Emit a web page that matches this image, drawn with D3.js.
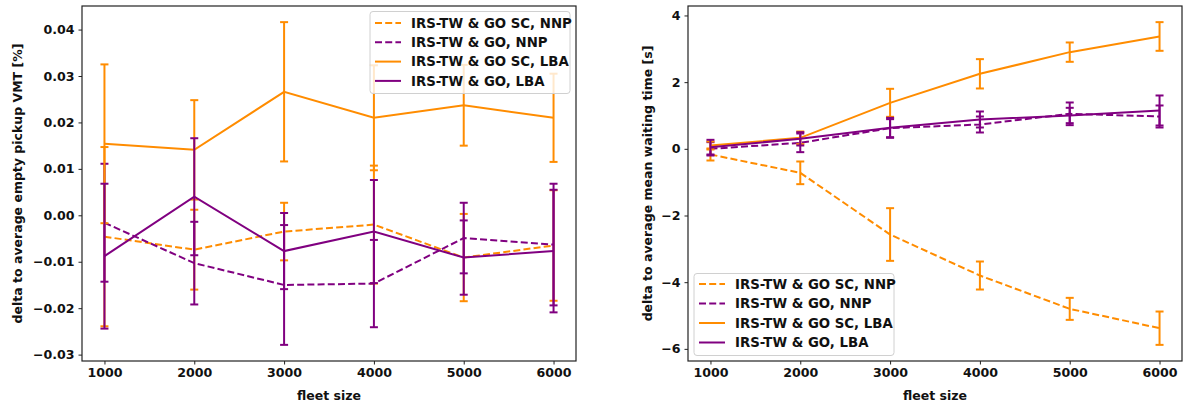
<!DOCTYPE html>
<html>
<head>
<meta charset="utf-8">
<script src="https://cdn.jsdelivr.net/npm/d3@7"></script>
<style>
  html, body { margin: 0; padding: 0; background: #fff; }
  svg { display: block; }
  text { font-family: "DejaVu Sans", sans-serif; font-weight: bold; fill: #111; }
</style>
</head>
<body>
<svg id="chart" width="1188" height="405"></svg>
<script>
// Fleet sizes on the x axis
const fleetSizes = [1000, 2000, 3000, 4000, 5000, 6000];

// Series labels, shared by both panels
const seriesNames = [
  "IRS-TW & GO SC, NNP",
  "IRS-TW & GO, NNP",
  "IRS-TW & GO SC, LBA",
  "IRS-TW & GO, LBA"
];

// Left panel: delta to average empty pickup VMT [%] (mean and error half-width)
const vmtScNnp    = [-0.0046, -0.0074, -0.0035, -0.0020, -0.0091, -0.0065];
const vmtScNnpErr = [ 0.0193,  0.0086,  0.0062,  0.0127,  0.0094,  0.0119];
const vmtGoNnp    = [-0.0016, -0.0103, -0.0150, -0.0147, -0.0049, -0.0063];
const vmtGoNnpErr = [ 0.0127,  0.0089,  0.0129,  0.0094,  0.0076,  0.0131];
const vmtScLba    = [ 0.0154,  0.0141,  0.0266,  0.0210,  0.0237,  0.0210];
const vmtScLbaErr = [ 0.0171,  0.0107,  0.0150,  0.0113,  0.0087,  0.0095];
const vmtGoLba    = [-0.0088,  0.0040, -0.0077, -0.0035, -0.0091, -0.0077];
const vmtGoLbaErr = [ 0.0156,  0.0126,  0.0082,  0.0111,  0.0080,  0.0132];

// Right panel: delta to average mean waiting time [s]
const waitScNnp    = [-0.17, -0.72, -2.57, -3.80, -4.80, -5.38];
const waitScNnpErr = [ 0.18,  0.34,  0.79,  0.42,  0.33,  0.50];
const waitGoNnp    = [ 0.00,  0.18,  0.62,  0.73,  1.05,  0.97];
const waitGoNnpErr = [ 0.20,  0.28,  0.27,  0.24,  0.34,  0.33];
const waitScLba    = [ 0.10,  0.33,  1.38,  2.25,  2.90,  3.37];
const waitScLbaErr = [ 0.12,  0.19,  0.42,  0.44,  0.29,  0.43];
const waitGoLba    = [ 0.05,  0.30,  0.63,  0.88,  1.00,  1.15];
const waitGoLbaErr = [ 0.22,  0.20,  0.30,  0.24,  0.23,  0.45];

// Tick values
const xTicks = [1000, 2000, 3000, 4000, 5000, 6000];
const vmtTicks = [-0.03, -0.02, -0.01, 0.00, 0.01, 0.02, 0.03, 0.04];
const waitTicks = [-6, -4, -2, 0, 2, 4];

const ORANGE = "#ff8c00";
const PURPLE = "#800080";
const styles = [
  { color: ORANGE, dash: "7,3.2" },
  { color: PURPLE, dash: "7,3.2" },
  { color: ORANGE, dash: null },
  { color: PURPLE, dash: null }
];

const svg = d3.select("#chart");
const minus = s => s.replace(/-/g, "\u2212");

function panel(opts) {
  const { left, right, top, bottom, series, ticks, fmt, ylabel, ylabelX, legend } = opts;
  const g = svg.append("g");

  // 5% padding around the data on both axes
  const xs = d3.scaleLinear().domain([750, 6250]).range([left, right]);
  let lo = Infinity, hi = -Infinity;
  series.forEach(s => s.mean.forEach((m, i) => {
    lo = Math.min(lo, m - s.err[i]); hi = Math.max(hi, m + s.err[i]);
  }));
  const pad = (hi - lo) * 0.05;
  const ys = d3.scaleLinear().domain([lo - pad, hi + pad]).range([bottom, top]);

  const line = d3.line().x((d, i) => xs(fleetSizes[i])).y(d => ys(d));

  series.forEach((s, k) => {
    const st = styles[k];
    const sg = g.append("g");
    sg.append("path")
      .attr("d", line(s.mean))
      .attr("fill", "none")
      .attr("stroke", st.color)
      .attr("stroke-width", 2)
      .attr("stroke-dasharray", st.dash);
    const eb = sg.selectAll("g.eb").data(s.mean).enter().append("g");
    eb.append("line")
      .attr("x1", (d, i) => xs(fleetSizes[i])).attr("x2", (d, i) => xs(fleetSizes[i]))
      .attr("y1", (d, i) => ys(d + s.err[i])).attr("y2", (d, i) => ys(d - s.err[i]))
      .attr("stroke", st.color).attr("stroke-width", 2);
    [1, -1].forEach(sign => {
      eb.append("line")
        .attr("x1", (d, i) => xs(fleetSizes[i]) - 4).attr("x2", (d, i) => xs(fleetSizes[i]) + 4)
        .attr("y1", (d, i) => ys(d + sign * s.err[i])).attr("y2", (d, i) => ys(d + sign * s.err[i]))
        .attr("stroke", st.color).attr("stroke-width", 2);
    });
  });

  // Axes
  const xAxis = d3.axisBottom(xs).tickValues(xTicks).tickSize(3.5).tickPadding(4).tickFormat(d3.format("d"));
  const yAxis = d3.axisLeft(ys).tickValues(ticks).tickSize(3.5).tickPadding(4).tickFormat(d => minus(fmt(d)));
  const gx = g.append("g").attr("transform", `translate(0,${bottom})`).call(xAxis);
  const gy = g.append("g").attr("transform", `translate(${left},0)`).call(yAxis);
  [gx, gy].forEach(a => {
    a.select(".domain").remove();
    a.selectAll(".tick line").attr("stroke", "#222").attr("stroke-width", 1);
    a.selectAll(".tick text").attr("font-size", 12.6).attr("font-family", "DejaVu Sans").attr("font-weight", "bold").attr("fill", "#111");
  });

  // Frame
  g.append("rect")
    .attr("x", left).attr("y", top)
    .attr("width", right - left).attr("height", bottom - top)
    .attr("fill", "none").attr("stroke", "#222").attr("stroke-width", 1.2);

  // Axis labels
  g.append("text")
    .attr("x", (left + right) / 2).attr("y", 399.5)
    .attr("text-anchor", "middle").attr("font-size", 12.5)
    .text("fleet size");
  g.append("text")
    .attr("transform", `translate(${ylabelX},${(top + bottom) / 2}) rotate(-90)`)
    .attr("text-anchor", "middle").attr("font-size", 12.5)
    .text(ylabel);

  // Legend
  const lg = g.append("g").attr("transform", `translate(${legend.x},${legend.y})`);
  lg.append("rect")
    .attr("width", legend.w).attr("height", legend.h).attr("rx", 3)
    .attr("fill", "#fff").attr("fill-opacity", 0.8)
    .attr("stroke", "#d0d0d0").attr("stroke-width", 1);
  seriesNames.forEach((name, k) => {
    const y = legend.first + k * legend.step;
    lg.append("line")
      .attr("x1", 5).attr("x2", 31).attr("y1", y).attr("y2", y)
      .attr("stroke", styles[k].color).attr("stroke-width", 2)
      .attr("stroke-dasharray", styles[k].dash);
    lg.append("text")
      .attr("x", 41).attr("y", y).attr("dy", "0.36em")
      .attr("font-size", 13.3)
      .text(name);
  });
}

panel({
  left: 82, right: 576, top: 6, bottom: 361,
  series: [
    { mean: vmtScNnp, err: vmtScNnpErr },
    { mean: vmtGoNnp, err: vmtGoNnpErr },
    { mean: vmtScLba, err: vmtScLbaErr },
    { mean: vmtGoLba, err: vmtGoLbaErr }
  ],
  ticks: vmtTicks,
  fmt: d3.format(".2f"),
  ylabel: "delta to average empty pickup VMT [%]",
  ylabelX: 22,
  legend: { x: 370, y: 11.5, w: 200, h: 82, first: 11.5, step: 19.3 }
});

panel({
  left: 688, right: 1182, top: 6, bottom: 361,
  series: [
    { mean: waitScNnp, err: waitScNnpErr },
    { mean: waitGoNnp, err: waitGoNnpErr },
    { mean: waitScLba, err: waitScLbaErr },
    { mean: waitGoLba, err: waitGoLbaErr }
  ],
  ticks: waitTicks,
  fmt: d3.format("d"),
  ylabel: "delta to average mean waiting time [s]",
  ylabelX: 651.5,
  legend: { x: 694, y: 273.5, w: 200, h: 82, first: 10.5, step: 19.5 }
});
</script>
</body>
</html>
